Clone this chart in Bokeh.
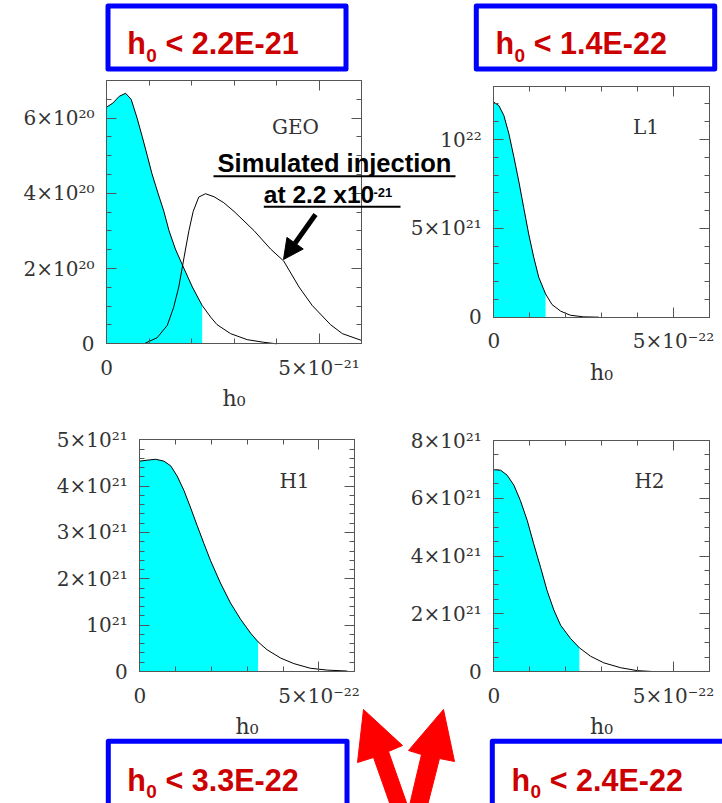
import numpy as np
from bokeh.plotting import figure
from bokeh.models import (Range1d, LinearAxis, FixedTicker, CustomJSTickFormatter,
                          Arrow, NormalHead)
from bokeh.core.properties import value
from bokeh.embed import file_html
from bokeh.resources import INLINE

# ---------------- data ----------------
detectors = ["GEO", "L1", "H1", "H2"]
upper_limit_text = ["2.2E-21", "1.4E-22", "3.3E-22", "2.4E-22"]

# GEO posterior (h0, pdf)
geo_h0 = [0.00e-21, 0.15e-21, 0.30e-21, 0.45e-21, 0.58e-21, 0.72e-21, 0.84e-21, 0.96e-21,
          1.07e-21, 1.21e-21, 1.35e-21, 1.47e-21, 1.62e-21, 1.82e-21, 2.02e-21, 2.25e-21,
          2.45e-21, 2.60e-21, 2.92e-21, 3.31e-21, 3.70e-21, 4.00e-21]
geo_pdf = [6.29e20, 6.40e20, 6.58e20, 6.66e20, 6.50e20, 6.00e20, 5.51e20, 5.00e20,
           4.52e20, 4.01e20, 3.52e20, 3.01e20, 2.52e20, 2.01e20, 1.51e20, 1.02e20,
           0.71e20, 0.51e20, 0.27e20, 0.11e20, 0.04e20, 0.00e20]
geo_limit = 2.25e-21

# GEO simulated injection posterior
inj_h0 = [0.88e-21, 1.19e-21, 1.43e-21, 1.58e-21, 1.70e-21, 1.78e-21, 1.86e-21, 1.94e-21,
          2.04e-21, 2.17e-21, 2.33e-21, 2.53e-21, 2.76e-21, 3.00e-21, 3.47e-21, 3.86e-21,
          4.17e-21, 4.53e-21, 4.84e-21, 5.27e-21, 5.55e-21, 6.00e-21]
inj_pdf = [0.00e20, 0.16e20, 0.49e20, 0.97e20, 1.51e20, 2.01e20, 2.52e20, 3.01e20,
           3.52e20, 3.90e20, 3.99e20, 3.91e20, 3.75e20, 3.52e20, 3.01e20, 2.52e20,
           2.20e20, 1.51e20, 1.02e20, 0.51e20, 0.27e20, 0.09e20]

# L1
l1_h0 = [0.00e-22, 0.14e-22, 0.28e-22, 0.42e-22, 0.56e-22, 0.70e-22, 0.83e-22, 0.97e-22,
         1.11e-22, 1.25e-22, 1.44e-22, 1.62e-22, 1.86e-22, 2.13e-22, 2.50e-22, 2.92e-22]
l1_pdf = [12.10e21, 11.91e21, 11.35e21, 10.32e21, 9.00e21, 7.60e21, 6.19e21, 4.69e21,
          3.38e21, 2.25e21, 1.31e21, 0.71e21, 0.34e21, 0.11e21, 0.02e21, 0.00e21]
l1_limit = 1.44e-22

# H1
h1_h0 = [0.00e-22, 0.20e-22, 0.44e-22, 0.67e-22, 0.86e-22, 1.04e-22, 1.23e-22, 1.41e-22,
         1.60e-22, 1.79e-22, 1.97e-22, 2.25e-22, 2.53e-22, 2.81e-22, 3.09e-22, 3.30e-22,
         3.55e-22, 3.93e-22, 4.30e-22, 4.76e-22, 5.23e-22, 5.79e-22]
h1_pdf = [4.54e21, 4.56e21, 4.58e21, 4.54e21, 4.44e21, 4.22e21, 3.91e21, 3.55e21,
          3.15e21, 2.76e21, 2.40e21, 1.91e21, 1.48e21, 1.13e21, 0.83e21, 0.64e21,
          0.47e21, 0.29e21, 0.17e21, 0.07e21, 0.03e21, 0.01e21]
h1_limit = 3.30e-22

# H2
h2_h0 = [0.00e-22, 0.19e-22, 0.37e-22, 0.56e-22, 0.74e-22, 0.93e-22, 1.11e-22, 1.30e-22,
         1.48e-22, 1.67e-22, 1.86e-22, 2.13e-22, 2.38e-22, 2.69e-22, 3.06e-22, 3.53e-22,
         3.99e-22, 4.41e-22]
h2_pdf = [6.99e21, 6.97e21, 6.80e21, 6.45e21, 5.92e21, 5.23e21, 4.42e21, 3.61e21,
          2.81e21, 2.13e21, 1.60e21, 1.15e21, 0.82e21, 0.53e21, 0.30e21, 0.13e21,
          0.03e21, 0.00e21]
h2_limit = 2.38e-22

# tick labels
geo_x_ticks, geo_x_labels = [0, 5e-21], ["0", "5×10⁻²¹"]
geo_y_ticks, geo_y_labels = [0, 2e20, 4e20, 6e20], ["0", "2×10²⁰", "4×10²⁰", "6×10²⁰"]
l_x_ticks, l_x_labels = [0, 5e-22], ["0", "5×10⁻²²"]
l1_y_ticks, l1_y_labels = [0, 5e21, 1e22], ["0", "5×10²¹", "10²²"]
h1_y_ticks, h1_y_labels = [0, 1e21, 2e21, 3e21, 4e21, 5e21], ["0", "10²¹", "2×10²¹", "3×10²¹", "4×10²¹", "5×10²¹"]
h2_y_ticks, h2_y_labels = [0, 2e21, 4e21, 6e21, 8e21], ["0", "2×10²¹", "4×10²¹", "6×10²¹", "8×10²¹"]

# ---------------- page / figure ----------------
W, H = 722, 803
p = figure(width=W, height=H, x_range=Range1d(0, W), y_range=Range1d(H, 0),
           x_axis_location=None, y_axis_location=None, toolbar_location=None,
           output_backend="svg", min_border=0, outline_line_color=None,
           background_fill_color="white", border_fill_color="white")
for g in p.grid:
    g.visible = False

AXC = "#555555"
SERIF = "DejaVu Serif"
SANS = "Liberation Sans"
CYAN = "#00FFFF"
xr, yr = {}, {}


def add_panel(key, frame, xmax, ymax, xmaj, xmin_, xlab, ymaj, ymin_, ylab):
    left, top, right, bottom = frame
    sx = xmax / (right - left)
    sy = ymax / (bottom - top)
    xr[key + "_x"] = Range1d(start=-left * sx, end=(W - left) * sx)
    yr[key + "_y"] = Range1d(start=-(H - bottom) * sy, end=bottom * sy)
    base = dict(x_range_name=key + "_x", y_range_name=key + "_y",
                axis_line_color=AXC, axis_line_width=1,
                major_tick_line_color=AXC, minor_tick_line_color=AXC,
                major_tick_in=10, major_tick_out=0, minor_tick_in=5, minor_tick_out=0,
                major_label_text_font=SERIF, major_label_text_font_size="20px",
                major_label_text_color="#333333", major_label_standoff=12)
    blank = CustomJSTickFormatter(code="return ''")
    p.add_layout(LinearAxis(fixed_location=0, bounds=(0, xmax),
                            ticker=FixedTicker(ticks=xmaj, minor_ticks=xmin_),
                            major_label_overrides=dict(zip(xmaj, xlab)),
                            axis_label="h₀", axis_label_text_font=SERIF,
                            axis_label_text_font_size="22px",
                            axis_label_text_font_style="normal",
                            axis_label_text_color="#333333", axis_label_standoff=3,
                            **base), "below")
    p.add_layout(LinearAxis(fixed_location=ymax, bounds=(0, xmax),
                            ticker=FixedTicker(ticks=xmaj, minor_ticks=xmin_),
                            formatter=blank, **base), "above")
    p.add_layout(LinearAxis(fixed_location=0, bounds=(0, ymax),
                            ticker=FixedTicker(ticks=ymaj, minor_ticks=ymin_),
                            major_label_overrides=dict(zip(ymaj, ylab)),
                            **base), "left")
    p.add_layout(LinearAxis(fixed_location=xmax, bounds=(0, ymax),
                            ticker=FixedTicker(ticks=ymaj, minor_ticks=ymin_),
                            formatter=blank, **base), "right")


def draw_curve(key, h0, pdf, limit=None, color="black"):
    h0 = np.array(h0)
    pdf = np.array(pdf)
    if limit is not None:
        m = h0 <= limit * 1.0000001
        p.varea(x=h0[m], y1=0, y2=pdf[m], fill_color=CYAN,
                x_range_name=key + "_x", y_range_name=key + "_y")
    p.line(h0, pdf, line_color=color, line_width=1,
           x_range_name=key + "_x", y_range_name=key + "_y")


add_panel("geo", (106, 80, 361, 343.3), 6e-21, 7e20,
          geo_x_ticks, np.linspace(0, 6e-21, 7).tolist(), geo_x_labels,
          geo_y_ticks, np.linspace(0, 7e20, 15).tolist(), geo_y_labels)
add_panel("l1", (493.3, 85.7, 709, 316.7), 6e-22, 1.3e22,
          l_x_ticks, np.linspace(0, 6e-22, 7).tolist(), l_x_labels,
          l1_y_ticks, np.linspace(0, 1.3e22, 14).tolist(), l1_y_labels)
add_panel("h1", (139.3, 439.3, 354.3, 671), 6e-22, 5e21,
          l_x_ticks, np.linspace(0, 6e-22, 7).tolist(), l_x_labels,
          h1_y_ticks, np.linspace(0, 5e21, 26).tolist(), h1_y_labels)
add_panel("h2", (493.3, 440, 709, 671), 6e-22, 8e21,
          l_x_ticks, np.linspace(0, 6e-22, 7).tolist(), l_x_labels,
          h2_y_ticks, np.linspace(0, 8e21, 17).tolist(), h2_y_labels)

p.extra_x_ranges = xr
p.extra_y_ranges = yr

draw_curve("geo", geo_h0, geo_pdf, geo_limit)
draw_curve("geo", inj_h0, inj_pdf)
draw_curve("l1", l1_h0, l1_pdf, l1_limit)
draw_curve("h1", h1_h0, h1_pdf, h1_limit)
draw_curve("h2", h2_h0, h2_pdf, h2_limit)

# detector names inside panels (page coordinates)
p.text(x=[295, 645.5, 294, 649], y=[126, 126, 480, 480], text=detectors,
       text_font=value(SERIF), text_font_size="20px", text_color="#333333",
       text_align="center", text_baseline="middle")

# ---------------- annotations (page coordinates) ----------------
# blue boxes with upper limits
p.quad(left=[107.5, 475.8, 107.8, 491.8], right=[345.5, 714.2, 346.5, 730],
       top=[5.5, 5.5, 740.8, 740.8], bottom=[68.5, 68.5, 810, 810],
       fill_color=None, line_color="#0000FF", line_width=5, line_join="round")

hx = [126.7, 495, 126.7, 511]
sub_x = [145.7, 514, 145.7, 530]
lt_x = [165, 533.3, 165, 549.3]
mid_y = [42.6, 42.6, 779.0, 779.0]      # vertical centre of the big text
sub_mid_y = [55.0, 55.0, 791.0, 791.0]  # vertical centre of the subscript
RED = "#CC0000"
p.text(x=hx, y=mid_y, text=["h"] * 4, text_font=value(SANS), text_font_style="bold",
       text_font_size="30.5px", text_color=RED, text_baseline="middle")
p.text(x=sub_x, y=sub_mid_y, text=["0"] * 4, text_font=value(SANS),
       text_font_style="bold", text_font_size="19px", text_color=RED,
       text_baseline="middle")
p.text(x=lt_x, y=mid_y, text=["< " + t for t in upper_limit_text], text_font=value(SANS),
       text_font_style="bold", text_font_size="30.5px", text_color=RED,
       text_baseline="middle")

# simulated injection note
t1 = p.text(x=[334], y=[162.3], text=["Simulated injection"], text_font=value(SANS),
            text_font_style="bold", text_font_size="25.5px", text_color="black",
            text_align="center", text_baseline="middle")
t2 = p.text(x=[263.3], y=[193.8], text=["at 2.2 x10"], text_font=value(SANS),
            text_font_style="bold", text_font_size="24.5px", text_color="black",
            text_align="left", text_baseline="middle")
t3 = p.text(x=[373.0], y=[191.8], text=["-21"], text_font=value(SANS),
            text_font_style="bold", text_font_size="13px", text_color="black",
            text_align="left", text_baseline="middle")
for r in (t1, t2, t3):
    r.level = "overlay"
u = p.segment(x0=[213, 263.3], y0=[175.8, 206.2], x1=[455, 400], y1=[175.8, 206.2],
              line_color="black", line_width=2)
u.level = "overlay"

p.add_layout(Arrow(end=NormalHead(size=20, fill_color="black", line_color="black"),
                   x_start=315, y_start=214, x_end=283, y_end=259,
                   line_width=5, line_color="black"))

# red arrows
p.patches(xs=[[363, 402, 388, 407, 390, 373, 357], [443, 454, 439, 427, 409, 421, 408]],
          ys=[[709, 745, 751, 805, 805, 757, 762], [709, 761, 758, 805, 805, 754, 750]],
          fill_color="#FF0000", line_color="#FF0000", line_width=1)

open("out.html", "w").write(file_html(p, INLINE))
